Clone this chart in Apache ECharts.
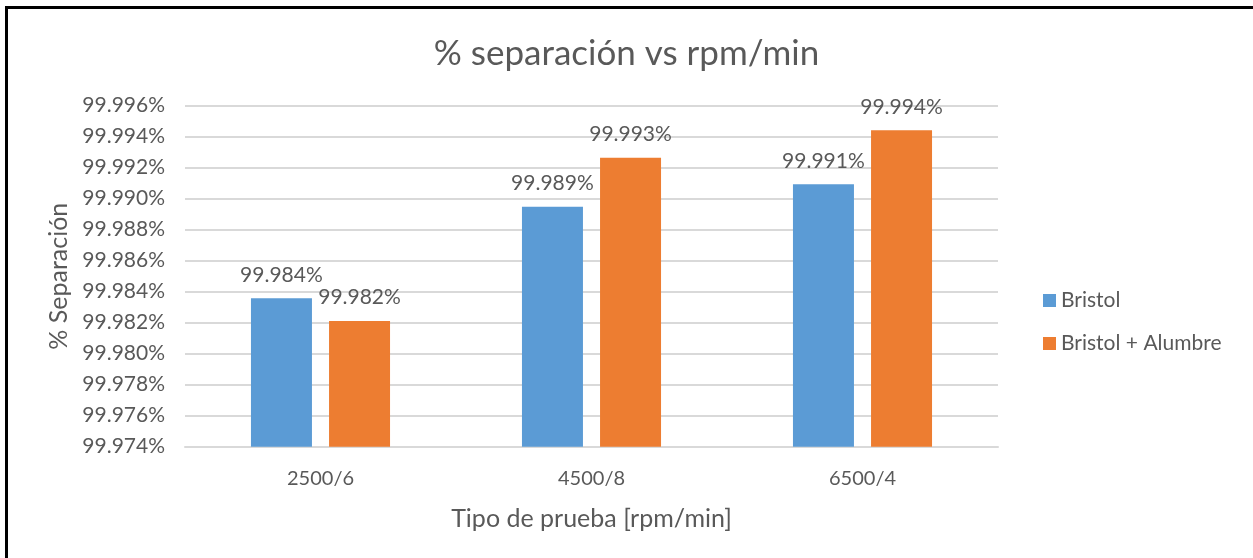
<!DOCTYPE html>
<html>
<head>
<meta charset="utf-8">
<script src="https://cdn.jsdelivr.net/npm/echarts@6/dist/echarts.min.js"></script>
<style>
  html, body { margin: 0; padding: 0; background: #fff; overflow: hidden; }
  #chart { position: absolute; left: 0; top: 0; width: 1253px; height: 558px; }
  /* marco negro (solo lados izquierdo y superior, como en la imagen) */
  #frame { position: absolute; left: 5px; top: 6px; width: 1300px; height: 600px;
           border-left: 3px solid #000; border-top: 3px solid #000; pointer-events: none; }
</style>
</head>
<body>
<div id="chart"></div>
<div id="frame"></div>
<script>
// datos
var categorias = ['2500/6', '4500/8', '6500/4'];
var bristol = [99.98357, 99.98948, 99.99093];
var bristolAlumbre = [99.98211, 99.99265, 99.99441];
var ejeMin = 99.974, ejeMax = 99.996, ejePaso = 0.002;

var fuente = 'Lato';
var gris = '#595959';

var etiqueta = {
    show: true,
    position: 'top',
    distance: 13,
    fontFamily: fuente,
    fontSize: 21,
    color: gris,
    formatter: function (p) { return p.value.toFixed(3) + '%'; }
};

var myChart = echarts.init(document.getElementById('chart'));
myChart.setOption({
    animation: false,
    title: {
        text: '% separación vs rpm/min',
        left: 'center',
        top: 31,
        textStyle: { fontFamily: fuente, fontSize: 35, fontWeight: 'normal', color: gris }
    },
    legend: {
        orient: 'vertical',
        left: 1038,
        top: 285,
        itemWidth: 13,
        itemHeight: 13,
        itemGap: 22,
        icon: 'rect',
        textStyle: { fontFamily: fuente, fontSize: 21, color: gris }
    },
    grid: { left: 185, right: 255, top: 105.7, bottom: 111.3, containLabel: false },
    xAxis: {
        type: 'category',
        data: categorias,
        name: 'Tipo de prueba [rpm/min]',
        nameLocation: 'middle',
        nameGap: 60,
        nameTextStyle: { fontFamily: fuente, fontSize: 25, color: gris },
        axisLine: { lineStyle: { color: '#D9D9D9', width: 2 } },
        axisTick: { show: false },
        axisLabel: { fontFamily: fuente, fontSize: 20, color: gris, margin: 22 }
    },
    yAxis: {
        type: 'value',
        min: ejeMin,
        max: ejeMax,
        interval: ejePaso,
        name: '% Separación',
        nameLocation: 'middle',
        nameGap: 112,
        nameTextStyle: { fontFamily: fuente, fontSize: 25, color: gris },
        axisLine: { show: false },
        axisTick: { show: false },
        splitLine: { lineStyle: { color: '#D9D9D9', width: 2 } },
        axisLabel: {
            fontFamily: fuente, fontSize: 21, color: gris, margin: 20,
            formatter: function (v) { return v.toFixed(3) + '%'; }
        }
    },
    series: [
        {
            name: 'Bristol',
            type: 'bar',
            data: bristol,
            barWidth: 61,
            barGap: '28%',
            itemStyle: { color: '#5B9BD5' },
            label: etiqueta
        },
        {
            name: 'Bristol + Alumbre',
            type: 'bar',
            data: bristolAlumbre,
            barWidth: 61,
            barGap: '28%',
            itemStyle: { color: '#ED7D31' },
            label: etiqueta
        }
    ]
});
</script>
</body>
</html>
